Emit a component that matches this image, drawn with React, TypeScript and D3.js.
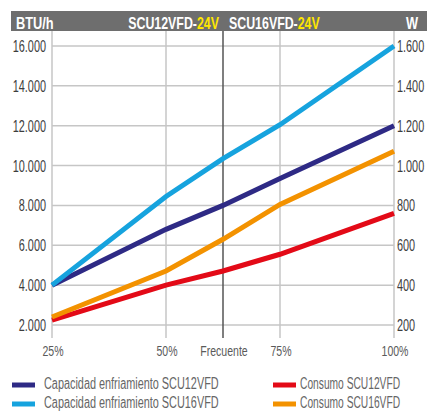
import React, { useEffect, useRef } from "react";
import * as d3 from "d3";

// x positions as percent of load; "Frecuente" sits at 62.5%
const xStops = [25, 50, 62.5, 75, 100];
const xLabels = ["25%", "50%", "Frecuente", "75%", "100%"];

const btuTicks = [2000, 4000, 6000, 8000, 10000, 12000, 14000, 16000];
const wTicks = [200, 400, 600, 800, 1000, 1200, 1400, 1600];

// BTU/h (left axis)
const cap12 = [4000, 6800, 8000, 9350, 12000];
const cap16 = [4000, 8450, 10350, 12050, 16000];
// W (right axis)
const cons12 = [225, 400, 471, 555, 760];
const cons16 = [240, 471, 630, 805, 1072];

const series = [
  { name: "Capacidad enfriamiento SCU12VFD", values: cap12, axis: "btu", color: "#2e2a85" },
  { name: "Capacidad enfriamiento SCU16VFD", values: cap16, axis: "btu", color: "#16a3de" },
  { name: "Consumo SCU12VFD", values: cons12, axis: "w", color: "#e30a17" },
  { name: "Consumo SCU16VFD", values: cons16, axis: "w", color: "#f39200" },
];

const fmt = (v: number) => d3.format(",")(v).replace(/,/g, ".");

const FONT = "'Liberation Sans', Arial, sans-serif";

export default function App() {
  const ref = useRef<SVGSVGElement | null>(null);

  useEffect(() => {
    const svg = d3.select(ref.current);
    svg.selectAll("*").remove();

    // condensed look: squeeze Liberation Sans horizontally
    const txt = (g: any, x: number, y: number, s: string, size: number, fill: string,
      anchor = "start", weight = "normal", k = 0.68) =>
      g.append("text")
        .attr("transform", `translate(${x},${y}) scale(${k},1)`)
        .attr("font-family", FONT).attr("font-size", size).attr("font-weight", weight)
        .attr("fill", fill).attr("text-anchor", anchor).text(s);

    const x = d3.scaleLinear().domain([25, 100]).range([52, 394]);
    const yL = d3.scaleLinear().domain([2000, 16000]).range([325, 46]);
    const yR = d3.scaleLinear().domain([200, 1600]).range([325, 46]);

    // header bar
    svg.append("rect").attr("x", 11).attr("y", 11).attr("width", 416).attr("height", 20).attr("fill", "#6e6e6e");
    const head = svg.append("g");
    txt(head, 16, 29, "BTU/h", 16, "#fff", "start", "bold", 0.8);
    txt(head, 418, 29, "W", 16, "#fff", "end", "bold", 0.8);
    const t1 = txt(head, 219, 29, "", 16.5, "#fff", "end", "bold", 0.75);
    t1.append("tspan").text("SCU12VFD-");
    t1.append("tspan").attr("fill", "#ffe600").text("24V");
    const t2 = txt(head, 229, 29, "", 16.5, "#fff", "start", "bold", 0.75);
    t2.append("tspan").text("SCU16VFD-");
    t2.append("tspan").attr("fill", "#ffe600").text("24V");

    // grid
    const grid = svg.append("g");
    grid.selectAll("line.h").data(btuTicks).join("line")
      .attr("x1", 52).attr("x2", 394)
      .attr("y1", (d) => yL(d)).attr("y2", (d) => yL(d))
      .attr("stroke", "#c6c6c6").attr("stroke-width", 1.5);
    grid.selectAll("line.v").data(xStops).join("line")
      .attr("x1", (d) => x(d)).attr("x2", (d) => x(d))
      .attr("y1", 31).attr("y2", 338)
      .attr("stroke", (d) => (d === 62.5 ? "#555" : "#c6c6c6"))
      .attr("stroke-width", 1.5);

    // tick labels
    const lab = svg.append("g");
    btuTicks.forEach((d) => txt(lab, 46, yL(d) + 6, fmt(d), 16, "#3d3d3d", "end"));
    wTicks.forEach((d) => txt(lab, 397, yR(d) + 6, fmt(d), 16, "#3d3d3d"));
    xStops.forEach((d, i) => txt(lab, x(d) + 1, 356, xLabels[i], 15.5, "#5a5a5a", "middle"));

    // lines
    const line = d3.line<number>();
    svg.append("g").selectAll("path").data(series).join("path")
      .attr("fill", "none")
      .attr("stroke", (d) => d.color)
      .attr("stroke-width", 5)
      .attr("d", (d) => {
        const yy = d.axis === "btu" ? yL : yR;
        return line(d.values.map((v, i) => [x(xStops[i]), yy(v)]));
      });

    // legend
    const leg = svg.append("g");
    const pos = [
      [12, 385], [12, 404], [273, 385], [273, 404],
    ];
    series.forEach((s, i) => {
      const [lx, ly] = pos[i];
      leg.append("line").attr("x1", lx).attr("x2", lx + 23).attr("y1", ly).attr("y2", ly)
        .attr("stroke", s.color).attr("stroke-width", 5);
      txt(leg, lx + (i < 2 ? 32 : 27), ly + 3.5, s.name, 16, "#666", "start", "normal", i < 2 ? 0.68 : 0.64);
    });
  }, []);

  return <svg ref={ref} width={427} height={411} style={{ position: "absolute", left: 0, top: 0 }} />;
}
